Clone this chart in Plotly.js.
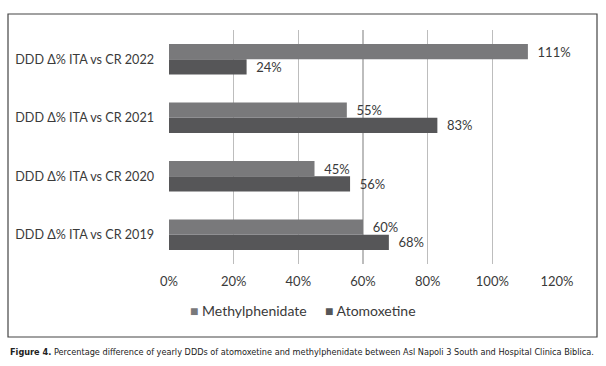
<!DOCTYPE html>
<html>
<head>
<meta charset="utf-8">
<script src="https://cdn.plot.ly/plotly-3.0.1.min.js"></script>
<style>html,body{margin:0;padding:0;background:#fff;}#chart{width:606px;height:366px;}</style>
</head>
<body>
<div id="chart"></div>
<script>
const categories = ['DDD Δ% ITA vs CR 2019', 'DDD Δ% ITA vs CR 2020', 'DDD Δ% ITA vs CR 2021', 'DDD Δ% ITA vs CR 2022'];
const methylphenidate = [60, 45, 55, 111];
const atomoxetine = [68, 56, 83, 24];
const xTicks = [0, 20, 40, 60, 80, 100, 120];
const seriesNames = ['Methylphenidate', 'Atomoxetine'];
const seriesColors = ['#79797b', '#565658'];
const caption = '<b>Figure 4.</b> Percentage difference of yearly DDDs of atomoxetine and methylphenidate between Asl Napoli 3 South and Hospital Clinica Biblica.';

const W = 606, H = 366;
const M = {l: 169, r: 49, t: 30, b: 102};
const pw = W - M.l - M.r, ph = H - M.t - M.b;
const px = x => (x - M.l) / pw;
const py = y => (H - M.b - y) / ph;

const font = 'Lato, "Open Sans", sans-serif';
const txt = {family: font, size: 13, color: '#3a3a3a'};

const traces = [
  {type: 'bar', orientation: 'h', name: seriesNames[1], y: categories, x: atomoxetine,
   marker: {color: seriesColors[1]}, text: atomoxetine.map(v => '  ' + v + '%'), textposition: 'outside',
   constraintext: 'none', textfont: txt, cliponaxis: false, hoverinfo: 'none', showlegend: false},
  {type: 'bar', orientation: 'h', name: seriesNames[0], y: categories, x: methylphenidate,
   marker: {color: seriesColors[0]}, text: methylphenidate.map(v => '  ' + v + '%'), textposition: 'outside',
   constraintext: 'none', textfont: txt, cliponaxis: false, hoverinfo: 'none', showlegend: false}
];

const legendX = [188, 323];
const legendAnn = seriesNames.map((n, i) => ({
  xref: 'paper', yref: 'paper', x: px(legendX[i]), y: py(310), xanchor: 'left', yanchor: 'middle', showarrow: false,
  text: '<span style="color:' + seriesColors[i] + '">■</span> ' + n,
  font: {family: font, size: 14, color: '#3a3a3a'}
}));

const layout = {
  width: W, height: H,
  margin: M,
  paper_bgcolor: '#fff', plot_bgcolor: '#fff',
  barmode: 'group', bargap: 0.48, bargroupgap: 0,
  showlegend: false,
  font: txt,
  xaxis: {range: [0, 120], tickvals: xTicks, ticktext: xTicks.map(v => v + '%'), showgrid: true,
          gridcolor: '#bdbdbd', gridwidth: 1.5, zeroline: false, showline: false, ticks: '',
          tickfont: {family: font, size: 13, color: '#3a3a3a'}, ticklabelstandoff: 8, fixedrange: true},
  yaxis: {type: 'category', showgrid: false, zeroline: false, showline: false, ticks: '',
          tickfont: {family: font, size: 12.6, color: '#3a3a3a'}, ticklabelstandoff: 14, fixedrange: true},
  shapes: [
    {type: 'rect', xref: 'paper', yref: 'paper', x0: px(8), x1: px(597), y0: py(337), y1: py(14),
     line: {color: '#444', width: 1.2}, fillcolor: 'rgba(0,0,0,0)', layer: 'below'}
  ],
  annotations: legendAnn.concat([
    {xref: 'paper', yref: 'paper', x: px(8), y: py(352), xanchor: 'left', yanchor: 'middle', showarrow: false,
     text: caption, font: {family: '"Liberation Sans Narrow", "DejaVu Sans Condensed", sans-serif', size: 9.1, color: '#222'}}
  ])
};

Plotly.newPlot('chart', traces, layout, {staticPlot: true, displayModeBar: false});
</script>
</body>
</html>
